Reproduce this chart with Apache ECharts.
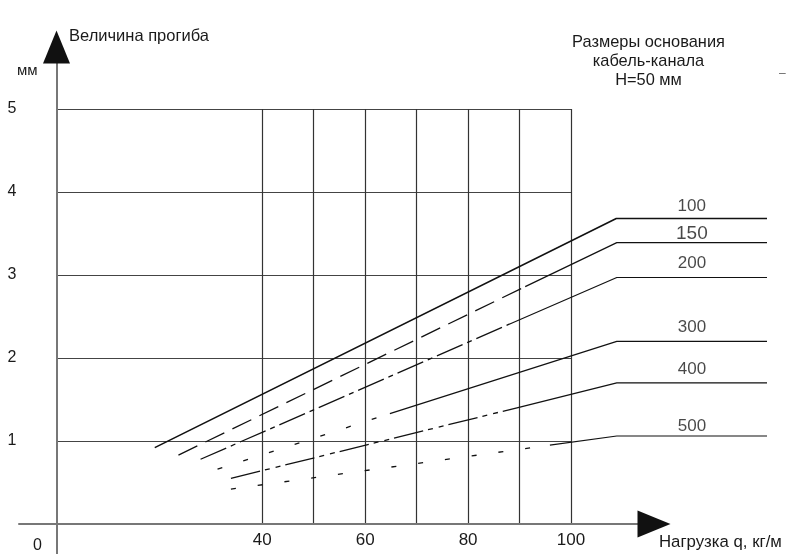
<!DOCTYPE html>
<html>
<head>
<meta charset="utf-8">
<script src="https://cdn.jsdelivr.net/npm/echarts@6/dist/echarts.min.js"></script>
<style>
html,body{margin:0;padding:0;background:#fff;}
#chart{width:786px;height:554px;}
</style>
</head>
<body>
<div id="chart"></div>
<script>
// ---- data ----
const xTickLabels = ['40', '60', '80', '100'];
const yTickLabels = ['1', '2', '3', '4', '5'];
const spanLabels = ['100', '150', '200', '300', '400', '500'];

// [load q (kg/m), deflection (mm)]
const curve100 = [[19.1, 0.92], [108.8, 3.68], [138.1, 3.68]];
const curve150Dash = [[23.7, 0.83], [91.1, 2.86]];
const curve150Solid = [[91.1, 2.86], [108.9, 3.39], [138.1, 3.39]];
const curve200Dash = [[28.0, 0.78], [88.1, 2.41]];
const curve200Solid = [[88.1, 2.41], [108.9, 2.97], [138.1, 2.97]];
const curve300Dash = [[31.3, 0.66], [64.8, 1.33]];
const curve300Solid = [[64.8, 1.33], [108.9, 2.20], [138.1, 2.20]];
const curve400Dash = [[33.9, 0.55], [89.5, 1.40]];
const curve400Solid = [[89.5, 1.40], [108.9, 1.70], [138.1, 1.70]];
const curve500Dash = [[33.9, 0.42], [95.9, 0.95]];
const curve500Solid = [[95.9, 0.95], [108.9, 1.06], [138.1, 1.06]];

// ---- layout ----
const X0 = 56.5, KX = 5.145, Y0 = 524, KY = 83;
const FONT = '"Liberation Sans", Arial, Helvetica, sans-serif';
const INK = '#111';

const solidCurves = [curve100, curve150Solid, curve200Solid, curve300Solid, curve400Solid, curve500Solid];
const labelDist = [4, -1, 6, 6, 5, 1];
const labelSize = [17, 19, 17, 17, 17, 17];

function lineSeries(data, type, width) {
  return {
    type: 'line', xAxisIndex: 0, yAxisIndex: 0, data: data,
    showSymbol: false, symbol: 'none', silent: true, clip: false,
    lineStyle: { color: INK, width: width || 1.2, type: type, cap: 'butt' },
    z: 5
  };
}

const labelData = solidCurves.map((c, i) => ({
  value: [(c[1][0] + c[2][0]) / 2, c[2][1]],
  label: { show: true, position: 'top', distance: labelDist[i], formatter: spanLabels[i],
           fontSize: labelSize[i], color: '#1a1a1a', fontFamily: FONT }
}));

const hidden = { show: false };
const noOB = { outerBoundsMode: 'none', containLabel: false };

const chart = echarts.init(document.getElementById('chart'), null, { renderer: 'canvas' });
chart.setOption({
  animation: false,
  backgroundColor: '#fff',
  textStyle: { fontFamily: FONT },
  grid: [
    // 0: data grid
    Object.assign({ left: X0, top: Y0 - 5 * KY, width: 140 * KX, height: 5 * KY }, noOB),
    // 1: vertical grid lines 40..100
    Object.assign({ left: X0 + 40 * KX, top: Y0 - 5 * KY, width: 60 * KX, height: 5 * KY }, noOB),
    // 2: horizontal grid lines 0..100
    Object.assign({ left: X0, top: Y0 - 5 * KY, width: 100 * KX, height: 5 * KY }, noOB),
    // 3: gray axis lines
    Object.assign({ left: 19, top: 47, width: 654 - 19, height: 554 - 47 }, noOB),
    // 4: black arrow heads
    Object.assign({ left: 19, top: 47, width: 654 - 19, height: 554 - 47 }, noOB)
  ],
  xAxis: [
    { gridIndex: 0, type: 'value', min: 0, max: 140, show: false },
    { gridIndex: 1, type: 'value', min: 40, max: 100, interval: 10,
      axisLine: hidden, axisTick: hidden,
      splitLine: { show: true, showMinLine: true, showMaxLine: true, lineStyle: { color: '#333', width: 1.2 } },
      axisLabel: { show: true, margin: 8, fontSize: 17, color: '#1a1a1a', fontFamily: FONT,
        formatter: v => (xTickLabels.indexOf(String(v)) >= 0 ? String(v) : '') } },
    { gridIndex: 2, type: 'value', min: 0, max: 100, show: false },
    { gridIndex: 3, type: 'value', min: (19 - X0) / KX, max: (654 - X0) / KX,
      axisLine: { show: true, onZero: true, lineStyle: { color: '#777', width: 2 } },
      axisTick: hidden, axisLabel: hidden, splitLine: hidden },
    { gridIndex: 4, type: 'value', min: (19 - X0) / KX, max: (654 - X0) / KX,
      axisLine: { show: true, onZero: true, symbol: ['none', 'triangle'], symbolSize: [27, 33],
                  lineStyle: { color: INK, width: 0 } },
      axisTick: hidden, axisLabel: hidden, splitLine: hidden }
  ],
  yAxis: [
    { gridIndex: 0, type: 'value', min: 0, max: 5, show: false },
    { gridIndex: 1, type: 'value', min: 0, max: 5, show: false },
    { gridIndex: 2, type: 'value', min: 0, max: 5, interval: 1,
      axisLine: hidden, axisTick: hidden,
      splitLine: { show: true, showMinLine: false, showMaxLine: true, lineStyle: { color: '#444', width: 1.2 } },
      axisLabel: { show: true, margin: 40, fontSize: 16, color: '#1a1a1a', fontFamily: FONT,
        formatter: v => (yTickLabels.indexOf(String(v)) >= 0 ? String(v) : '') } },
    { gridIndex: 3, type: 'value', min: -(554 - Y0) / KY, max: (Y0 - 47) / KY,
      axisLine: { show: true, onZero: true, lineStyle: { color: '#777', width: 2 } },
      axisTick: hidden, axisLabel: hidden, splitLine: hidden },
    { gridIndex: 4, type: 'value', min: -(554 - Y0) / KY, max: (Y0 - 47) / KY,
      axisLine: { show: true, onZero: true, symbol: ['none', 'triangle'], symbolSize: [27, 33],
                  lineStyle: { color: INK, width: 0 } },
      axisTick: hidden, axisLabel: hidden, splitLine: hidden }
  ],
  series: [
    lineSeries(curve100, 'solid', 1.6),
    lineSeries(curve150Dash, [21, 9], 1.3),
    lineSeries(curve150Solid, 'solid', 1.2),
    lineSeries(curve200Dash, [28, 5, 5, 5], 1.3),
    lineSeries(curve200Solid, 'solid', 1.2),
    lineSeries(curve300Dash, [5, 22], 1.3),
    lineSeries(curve300Solid, 'solid', 1.2),
    lineSeries(curve400Dash, [30, 5, 5, 6, 5, 5], 1.3),
    lineSeries(curve400Solid, 'solid', 1.2),
    lineSeries(curve500Dash, [5, 22], 1.3),
    lineSeries(curve500Solid, 'solid', 1.2),
    { type: 'scatter', xAxisIndex: 0, yAxisIndex: 0, symbolSize: 0, silent: true,
      data: labelData, z: 6 }
  ],
  graphic: [
    { type: 'text', left: 69, top: 28, style: { text: 'Величина прогиба', font: '16.5px ' + FONT, fill: '#1a1a1a' } },
    { type: 'text', left: 17, top: 63, style: { text: 'мм', font: '15px ' + FONT, fill: '#1a1a1a' } },
    { type: 'text', left: 33, top: 538, style: { text: '0', font: '16px ' + FONT, fill: '#1a1a1a' } },
    { type: 'text', left: 659, top: 534, style: { text: 'Нагрузка q, кг/м', font: '16.8px ' + FONT, fill: '#1a1a1a' } },
    { type: 'text', x: 648.5, y: 33, style: { text: 'Размеры основания\nкабель-канала\nH=50 мм',
        font: '16.4px ' + FONT, fill: '#1a1a1a', align: 'center', lineHeight: 19 } },
    { type: 'text', left: 779, top: 68, style: { text: '–', font: '12px ' + FONT, fill: '#666' } }
  ]
});
</script>
</body>
</html>
